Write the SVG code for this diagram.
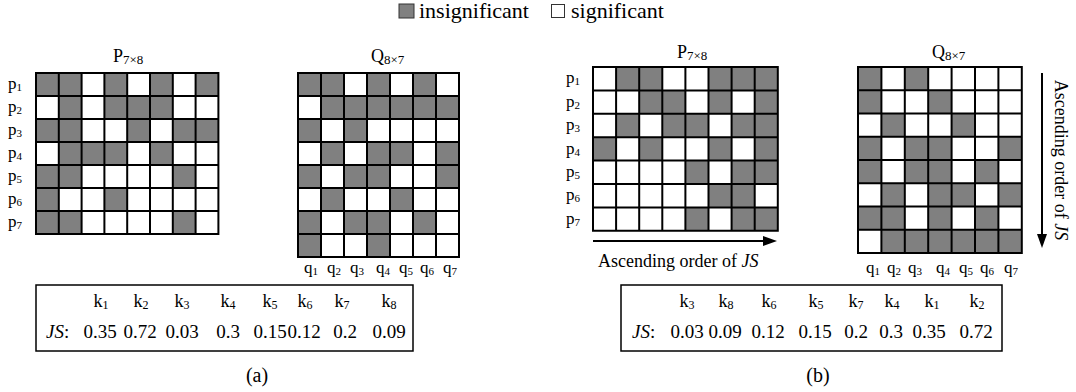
<svg xmlns="http://www.w3.org/2000/svg" width="1076" height="392" viewBox="0 0 1076 392" font-family="'Liberation Serif', 'DejaVu Serif', 'Times New Roman', serif">
<defs>
<style>
text, tspan{font-family:'Liberation Serif','DejaVu Serif','Times New Roman',serif;fill:#000}
.f18{font-size:18px}
.f17{font-size:17px}
.f19{font-size:19px}
.s13{font-size:13px}
.s12{font-size:12px}
.s11{font-size:11px}
.it{font-style:italic}
.g{fill:#808080}
.bg{fill:#fff}
.gl{fill:none;stroke:#000;stroke-width:2;stroke-linecap:square;vector-effect:non-scaling-stroke}
.box{fill:none;stroke:#000;stroke-width:1.5}
.arr{fill:none;stroke:#000;stroke-width:2}
</style>
<marker id="ah" markerUnits="userSpaceOnUse" viewBox="0 0 14 10" refX="1" refY="5" markerWidth="14" markerHeight="10" orient="auto">
<path d="M0 0L14 5L0 10z" fill="#000"/>
</marker>
</defs>
<rect width="1076" height="392" fill="#fff"/>

<g id="legend">
<rect x="399" y="4" width="15" height="14" fill="#808080" stroke="#333" stroke-width="1"/>
<text x="419" y="18" style="font-size:22px">insignificant</text>
<rect x="551.5" y="4.5" width="13" height="13" fill="#fff" stroke="#333" stroke-width="1"/>
<text x="571" y="18" style="font-size:22px">significant</text>
</g>

<g id="grid-Pa">
<text x="113" y="62" class="f18">P<tspan class="s13" dy="2">7×8</tspan></text>
<text x="8" y="89" class="f17">p<tspan class="s11" dy="2">1</tspan></text>
<text x="8" y="112" class="f17">p<tspan class="s11" dy="2">2</tspan></text>
<text x="8" y="135" class="f17">p<tspan class="s11" dy="2">3</tspan></text>
<text x="8" y="158" class="f17">p<tspan class="s11" dy="2">4</tspan></text>
<text x="8" y="181" class="f17">p<tspan class="s11" dy="2">5</tspan></text>
<text x="8" y="204" class="f17">p<tspan class="s11" dy="2">6</tspan></text>
<text x="8" y="227" class="f17">p<tspan class="s11" dy="2">7</tspan></text>
<g transform="translate(36 73) scale(22.8 23)">
<rect class="bg" width="8" height="7"/>
<path class="g" d="M0 0h1v1h-1zM1 0h1v1h-1zM3 0h1v1h-1zM5 0h1v1h-1zM7 0h1v1h-1zM1 1h1v1h-1zM3 1h1v1h-1zM4 1h1v1h-1zM5 1h1v1h-1zM0 2h1v1h-1zM1 2h1v1h-1zM4 2h1v1h-1zM6 2h1v1h-1zM7 2h1v1h-1zM1 3h1v1h-1zM2 3h1v1h-1zM3 3h1v1h-1zM5 3h1v1h-1zM0 4h1v1h-1zM1 4h1v1h-1zM6 4h1v1h-1zM0 5h1v1h-1zM3 5h1v1h-1zM0 6h1v1h-1zM1 6h1v1h-1zM6 6h1v1h-1z"/>
<path class="gl" d="M0 0V7M1 0V7M2 0V7M3 0V7M4 0V7M5 0V7M6 0V7M7 0V7M8 0V7M0 0H8M0 1H8M0 2H8M0 3H8M0 4H8M0 5H8M0 6H8M0 7H8"/>
</g>
</g>

<g id="grid-Qa">
<text x="371" y="62" class="f18">Q<tspan class="s13" dy="2">8×7</tspan></text>
<g transform="translate(298 73) scale(23 23)">
<rect class="bg" width="7" height="8"/>
<path class="g" d="M0 0h1v1h-1zM1 0h1v1h-1zM3 0h1v1h-1zM5 0h1v1h-1zM1 1h6v1h-6zM0 2h1v1h-1zM2 2h1v1h-1zM1 3h1v1h-1zM3 3h1v1h-1zM4 3h1v1h-1zM6 3h1v1h-1zM0 4h1v1h-1zM2 4h1v1h-1zM3 4h1v1h-1zM6 4h1v1h-1zM1 5h1v1h-1zM4 5h1v1h-1zM0 6h1v1h-1zM2 6h1v1h-1zM3 6h1v1h-1zM5 6h1v1h-1zM0 7h1v1h-1zM3 7h1v1h-1z"/>
<path class="gl" d="M0 0V8M1 0V8M2 0V8M3 0V8M4 0V8M5 0V8M6 0V8M7 0V8M0 0H7M0 1H7M0 2H7M0 3H7M0 4H7M0 5H7M0 6H7M0 7H7M0 8H7"/>
</g>
<g class="f17" text-anchor="middle">
<text x="311" y="273">q<tspan class="s11" dy="2">1</tspan></text>
<text x="334" y="273">q<tspan class="s11" dy="2">2</tspan></text>
<text x="357" y="273">q<tspan class="s11" dy="2">3</tspan></text>
<text x="383" y="273">q<tspan class="s11" dy="2">4</tspan></text>
<text x="406" y="273">q<tspan class="s11" dy="2">5</tspan></text>
<text x="427" y="273">q<tspan class="s11" dy="2">6</tspan></text>
<text x="450" y="273">q<tspan class="s11" dy="2">7</tspan></text>
</g>
</g>

<g id="table-a">
<rect class="box" x="36" y="285" width="377" height="66"/>
<g class="f18" text-anchor="middle">
<text x="101" y="307">k<tspan class="s12" dy="2">1</tspan></text>
<text x="141" y="307">k<tspan class="s12" dy="2">2</tspan></text>
<text x="182" y="307">k<tspan class="s12" dy="2">3</tspan></text>
<text x="228" y="307">k<tspan class="s12" dy="2">4</tspan></text>
<text x="270" y="307">k<tspan class="s12" dy="2">5</tspan></text>
<text x="305" y="307">k<tspan class="s12" dy="2">6</tspan></text>
<text x="342" y="307">k<tspan class="s12" dy="2">7</tspan></text>
<text x="389" y="307">k<tspan class="s12" dy="2">8</tspan></text>
</g>
<text x="46" y="338" class="f19"><tspan class="it">JS</tspan>:</text>
<g class="f19" text-anchor="middle">
<text x="100" y="338">0.35</text>
<text x="140" y="338">0.72</text>
<text x="182" y="338">0.03</text>
<text x="228" y="338">0.3</text>
<text x="270" y="338">0.15</text>
<text x="304" y="338">0.12</text>
<text x="345" y="338">0.2</text>
<text x="389" y="338">0.09</text>
</g>
<text x="257" y="382" text-anchor="middle" style="font-size:20px">(a)</text>
</g>

<g id="grid-Pb">
<text x="677" y="58" class="f18">P<tspan class="s13" dy="2">7×8</tspan></text>
<text x="566" y="83" class="f17">p<tspan class="s11" dy="2">1</tspan></text>
<text x="566" y="106.5" class="f17">p<tspan class="s11" dy="2">2</tspan></text>
<text x="566" y="130" class="f17">p<tspan class="s11" dy="2">3</tspan></text>
<text x="566" y="153.5" class="f17">p<tspan class="s11" dy="2">4</tspan></text>
<text x="566" y="177" class="f17">p<tspan class="s11" dy="2">5</tspan></text>
<text x="566" y="200" class="f17">p<tspan class="s11" dy="2">6</tspan></text>
<text x="566" y="223.5" class="f17">p<tspan class="s11" dy="2">7</tspan></text>
<g transform="translate(593 67) scale(23.1 23.4)">
<rect class="bg" width="8" height="7"/>
<path class="g" d="M1 0h1v1h-1zM2 0h1v1h-1zM5 0h1v1h-1zM6 0h1v1h-1zM7 0h1v1h-1zM2 1h1v1h-1zM3 1h1v1h-1zM5 1h1v1h-1zM7 1h1v1h-1zM1 2h1v1h-1zM3 2h1v1h-1zM4 2h1v1h-1zM6 2h1v1h-1zM7 2h1v1h-1zM0 3h1v1h-1zM2 3h1v1h-1zM5 3h1v1h-1zM7 3h1v1h-1zM4 4h1v1h-1zM6 4h1v1h-1zM7 4h1v1h-1zM5 5h1v1h-1zM6 5h1v1h-1zM4 6h1v1h-1zM6 6h1v1h-1zM7 6h1v1h-1z"/>
<path class="gl" d="M0 0V7M1 0V7M2 0V7M3 0V7M4 0V7M5 0V7M6 0V7M7 0V7M8 0V7M0 0H8M0 1H8M0 2H8M0 3H8M0 4H8M0 5H8M0 6H8M0 7H8"/>
</g>
<text x="598" y="267" class="f18">Ascending order of <tspan class="it">JS</tspan></text>
</g>

<g id="grid-Qb">
<text x="932" y="58" class="f18">Q<tspan class="s13" dy="2">8×7</tspan></text>
<g transform="translate(858 67) scale(23.4 23.25)">
<rect class="bg" width="7" height="8"/>
<path class="g" d="M0 0h1v1h-1zM2 0h1v1h-1zM0 1h1v1h-1zM3 1h1v1h-1zM1 2h1v1h-1zM4 2h1v1h-1zM0 3h1v1h-1zM2 3h1v1h-1zM3 3h1v1h-1zM6 3h1v1h-1zM0 4h1v1h-1zM2 4h1v1h-1zM3 4h1v1h-1zM5 4h1v1h-1zM1 5h1v1h-1zM3 5h1v1h-1zM4 5h1v1h-1zM6 5h1v1h-1zM0 6h1v1h-1zM1 6h1v1h-1zM3 6h1v1h-1zM5 6h1v1h-1zM1 7h6v1h-6z"/>
<path class="gl" d="M0 0V8M1 0V8M2 0V8M3 0V8M4 0V8M5 0V8M6 0V8M7 0V8M0 0H7M0 1H7M0 2H7M0 3H7M0 4H7M0 5H7M0 6H7M0 7H7M0 8H7"/>
</g>
<g class="f17" text-anchor="middle">
<text x="873" y="273">q<tspan class="s11" dy="2">1</tspan></text>
<text x="894" y="273">q<tspan class="s11" dy="2">2</tspan></text>
<text x="915" y="273">q<tspan class="s11" dy="2">3</tspan></text>
<text x="943" y="273">q<tspan class="s11" dy="2">4</tspan></text>
<text x="966" y="273">q<tspan class="s11" dy="2">5</tspan></text>
<text x="987" y="273">q<tspan class="s11" dy="2">6</tspan></text>
<text x="1011" y="273">q<tspan class="s11" dy="2">7</tspan></text>
</g>
<text transform="translate(1055 160) rotate(90)" text-anchor="middle" class="f18">Ascending order of <tspan class="it">JS</tspan></text>
</g>

<g id="table-b">
<rect class="box" x="621" y="285" width="381" height="66"/>
<g class="f18" text-anchor="middle">
<text x="687" y="307">k<tspan class="s12" dy="2">3</tspan></text>
<text x="726" y="307">k<tspan class="s12" dy="2">8</tspan></text>
<text x="769" y="307">k<tspan class="s12" dy="2">6</tspan></text>
<text x="816" y="307">k<tspan class="s12" dy="2">5</tspan></text>
<text x="856" y="307">k<tspan class="s12" dy="2">7</tspan></text>
<text x="892" y="307">k<tspan class="s12" dy="2">4</tspan></text>
<text x="932" y="307">k<tspan class="s12" dy="2">1</tspan></text>
<text x="977" y="307">k<tspan class="s12" dy="2">2</tspan></text>
</g>
<text x="632" y="338" class="f19"><tspan class="it">JS</tspan>:</text>
<g class="f19" text-anchor="middle">
<text x="687" y="338">0.03</text>
<text x="725" y="338">0.09</text>
<text x="768" y="338">0.12</text>
<text x="815" y="338">0.15</text>
<text x="856" y="338">0.2</text>
<text x="891" y="338">0.3</text>
<text x="929" y="338">0.35</text>
<text x="976" y="338">0.72</text>
</g>
<text x="818" y="382" text-anchor="middle" style="font-size:20px">(b)</text>
</g>

<g id="connectors">
<line class="arr" x1="593" y1="241" x2="764" y2="241" marker-end="url(#ah)"/>
<line class="arr" x1="1042" y1="73" x2="1042" y2="235" marker-end="url(#ah)"/>
</g>
</svg>
